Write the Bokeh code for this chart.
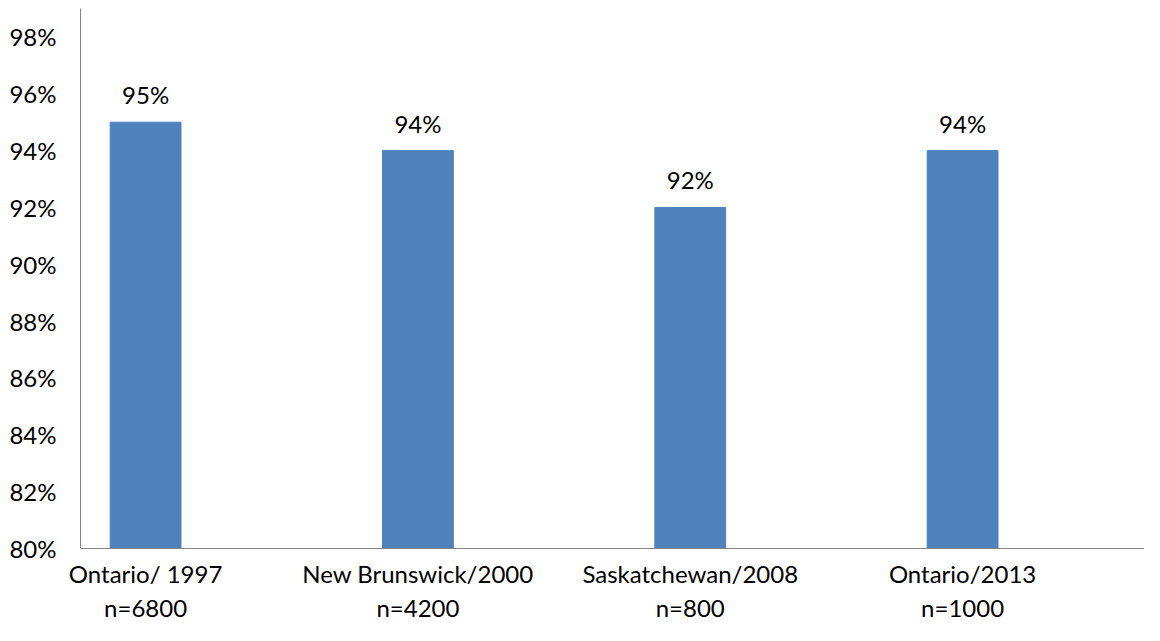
from bokeh.plotting import figure
from bokeh.models import Range1d, FixedTicker, PrintfTickFormatter, ColumnDataSource
from bokeh.embed import file_html
from bokeh.resources import INLINE

categories = ["Ontario/ 1997", "New Brunswick/2000", "Saskatchewan/2008", "Ontario/2013"]
sample_sizes = ["n=6800", "n=4200", "n=800", "n=1000"]
values = [95, 94, 92, 94]
y_ticks = [80, 82, 84, 86, 88, 90, 92, 94, 96, 98]

FONT = "Lato"
BAR = "#4F81BD"
AXIS = "#868686"

xs = [i + 0.5 for i in range(len(categories))]
labels = [f"{v}%" for v in values]
src = ColumnDataSource(dict(x=xs, top=values, label=labels))

p = figure(width=1144, height=625, output_backend="svg", toolbar_location=None,
           x_range=Range1d(0.261, 4.168), y_range=Range1d(80, 99),
           min_border_left=80, min_border_top=8, min_border_right=0, min_border_bottom=69)
p.outline_line_color = None
p.xgrid.visible = False
p.ygrid.visible = False

p.vbar(x="x", top="top", bottom=80, width=0.26, color=BAR, source=src)
p.text(x="x", y="top", text="label", source=src, text_align="center", text_baseline="bottom",
       y_offset=-13, text_font=dict(value=FONT), text_font_size="24px", text_color="#000000")

p.yaxis.ticker = FixedTicker(ticks=y_ticks)
p.yaxis.formatter = PrintfTickFormatter(format="%d%%")
p.yaxis.major_tick_line_color = None
p.yaxis.minor_tick_line_color = None
p.yaxis.major_tick_out = 0
p.yaxis.major_tick_in = 0
p.yaxis.axis_line_color = AXIS
p.yaxis.major_label_text_font = FONT
p.yaxis.major_label_text_font_size = "24px"
p.yaxis.major_label_text_color = "#000000"
p.yaxis.major_label_standoff = 24

p.xaxis.ticker = FixedTicker(ticks=xs)
p.xaxis.major_label_overrides = {x: f"{c}\n{n}" for x, c, n in zip(xs, categories, sample_sizes)}
p.xaxis.major_tick_line_color = None
p.xaxis.minor_tick_line_color = None
p.xaxis.major_tick_out = 0
p.xaxis.major_tick_in = 0
p.xaxis.axis_line_color = AXIS
p.xaxis.major_label_text_font = FONT
p.xaxis.major_label_text_font_size = "24px"
p.xaxis.major_label_text_color = "#000000"
p.xaxis.major_label_standoff = 10

open("out.html", "w").write(file_html(p, INLINE))
